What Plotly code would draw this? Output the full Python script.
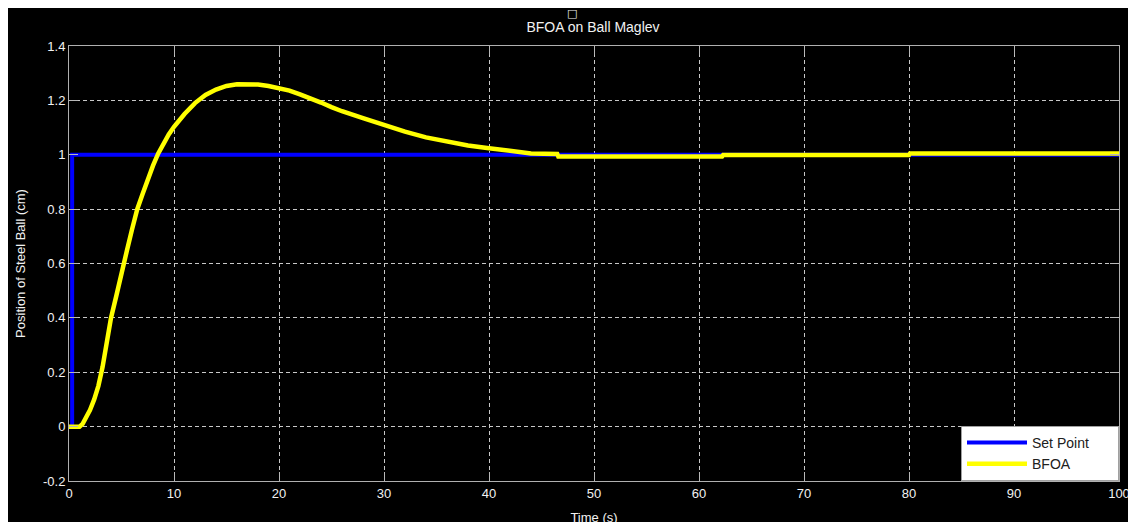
import plotly.graph_objects as go

# ---- data ----
setpoint_t = [0, 0.3, 0.3, 100]
setpoint_v = [0, 0, 1, 1]

bfoa_t = [0, 1.0, 1.3, 1.6, 2.0, 2.4, 2.8, 3.2, 3.6, 4.0, 4.5, 5.0, 5.5, 6.0, 6.5,
          7.0, 7.5, 8.0, 8.5, 9.0, 9.5, 10, 11, 12, 13, 14, 15, 16, 17, 18, 19, 20,
          21, 22, 23, 24, 25, 26, 28, 30, 32, 34, 36, 38, 40, 42, 44,
          46.5, 46.6, 62.2, 62.3, 80.0, 80.1, 100]
bfoa_v = [0, 0, 0.01, 0.03, 0.061, 0.10, 0.15, 0.22, 0.31, 0.40, 0.48, 0.57, 0.645,
          0.725, 0.80, 0.855, 0.91, 0.96, 1.005, 1.042, 1.075, 1.103, 1.15, 1.19,
          1.22, 1.24, 1.253, 1.259, 1.26, 1.258, 1.253, 1.246, 1.236, 1.222, 1.208,
          1.192, 1.175, 1.16, 1.135, 1.108, 1.085, 1.064, 1.047, 1.034, 1.024, 1.014,
          1.005, 1.003, 0.994, 0.994, 0.999, 0.999, 1.005, 1.005]

x_ticks = [0, 10, 20, 30, 40, 50, 60, 70, 80, 90, 100]
y_ticks = [-0.2, 0, 0.2, 0.4, 0.6, 0.8, 1, 1.2, 1.4]
y_tick_text = ["-0.2", "0", "0.2", "0.4", "0.6", "0.8", "1", "1.2", "1.4"]

FONT = "Liberation Sans, Arial, sans-serif"
NBSP = "\u00a0"

# figure-coordinate layout (page has an 8px body margin)
L, R, T, B = 61, 25, 38, 49
W, H = 1136, 522
PW, PH = W - L - R, H - T - B

fig = go.Figure()
fig.add_trace(go.Scatter(x=setpoint_t, y=setpoint_v, mode="lines",
                         name="Set Point" + NBSP * 6, legendgroup="a",
                         line=dict(color="#0000ff", width=4)))
fig.add_trace(go.Scatter(x=bfoa_t, y=bfoa_v, mode="lines",
                         name="BFOA", legendgroup="b",
                         line=dict(color="#ffff00", width=4.5)))

axis_common = dict(
    showline=True, linecolor="#b0b0b0", linewidth=1, mirror="ticks",
    ticks="inside", ticklen=9, tickcolor="#b8b8b8", tickwidth=1,
    showgrid=True, gridcolor="#c8c8c8", gridwidth=1, griddash="4px,3px",
    zeroline=False, tickfont=dict(family=FONT, size=13, color="#f2f2f2"),
)

fig.update_xaxes(range=[0, 100], tickvals=x_ticks, title=dict(
    text="Time (s)", font=dict(family=FONT, size=13, color="#f2f2f2"), standoff=13),
    **axis_common)
fig.update_yaxes(range=[-0.2, 1.4], tickvals=y_ticks, ticktext=y_tick_text, title=dict(
    text="Position of Steel Ball (cm)", font=dict(family=FONT, size=13, color="#f2f2f2"),
    standoff=14), **axis_common)

fig.update_layout(
    width=W, height=H,
    margin=dict(l=L, r=R, t=T, b=B, autoexpand=False),
    paper_bgcolor="black", plot_bgcolor="black",
    title=dict(text="BFOA on Ball Maglev", x=(585 - L) / PW, xref="paper",
               xanchor="center", y=1 - 19 / H, yanchor="middle",
               font=dict(family=FONT, size=14, color="#f2f2f2")),
    showlegend=True,
    legend=dict(x=1, y=0, xanchor="right", yanchor="bottom",
                bgcolor="white", bordercolor="#a0a0a0", borderwidth=1,
                font=dict(family=FONT, size=14, color="#202020"),
                itemwidth=60, tracegroupgap=6, traceorder="normal"),
    annotations=[
        dict(text="□", xref="paper", yref="paper", x=(563.5 - L) / PW,
             y=1 + (T - 5) / PH, showarrow=False, xanchor="center", yanchor="middle",
             font=dict(family="DejaVu Sans", size=11, color="#f2f2f2")),
    ],
)

fig.write_html("out.html")
